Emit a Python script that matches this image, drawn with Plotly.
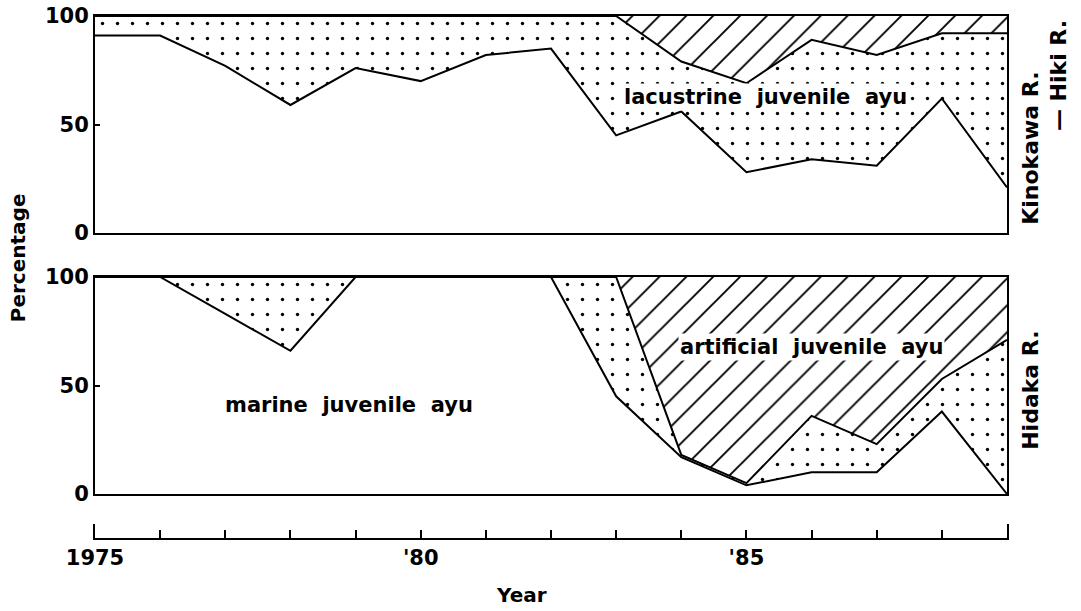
import plotly.graph_objects as go

years = list(range(1975, 1990))

# Kinokawa R. - Hiki R. (percent composition)
kin_marine = [91, 91, 77, 59, 76, 70, 82, 85, 45, 56, 28, 34, 31, 62, 21]
kin_lacustrine = [9, 9, 23, 41, 24, 30, 18, 15, 55, 23, 41, 55, 51, 30, 71]
kin_artificial = [0, 0, 0, 0, 0, 0, 0, 0, 0, 21, 31, 11, 18, 8, 8]

# Hidaka R. (percent composition)
hid_marine = [100, 100, 83, 66, 100, 100, 100, 100, 45, 17, 4, 10, 10, 38, 0]
hid_lacustrine = [0, 0, 17, 34, 0, 0, 0, 0, 55, 1, 1, 26, 13, 15, 71]
hid_artificial = [0, 0, 0, 0, 0, 0, 0, 0, 0, 82, 95, 64, 77, 47, 29]

tick_labels = ["1975", "", "", "", "", "'80", "", "", "", "", "'85", "", "", "", ""]

FONT = "DejaVu Sans"
BLACK = "black"
NB = "\u00a0"

fig = go.Figure()


def add_panel(marine, lac, art, xa, ya):
    lower = marine
    upper = [m + l for m, l in zip(marine, lac)]
    top = [u + a for u, a in zip(upper, art)]
    fig.add_trace(go.Scatter(x=years, y=lower, mode="lines", xaxis=xa, yaxis=ya,
                             line=dict(color=BLACK, width=2), showlegend=False,
                             hoverinfo="skip"))
    fig.add_trace(go.Scatter(x=years, y=upper, mode="lines", xaxis=xa, yaxis=ya,
                             fill="tonexty", fillcolor="white",
                             fillpattern=dict(shape=".", size=15, solidity=0.04,
                                              fgcolor=BLACK, bgcolor="white",
                                              fgopacity=1),
                             line=dict(color=BLACK, width=2), showlegend=False,
                             hoverinfo="skip"))
    fig.add_trace(go.Scatter(x=years, y=top, mode="lines", xaxis=xa, yaxis=ya,
                             fill="tonexty", fillcolor="white",
                             fillpattern=dict(shape="/", size=19, solidity=0.1,
                                              fgcolor=BLACK, bgcolor="white",
                                              fgopacity=1),
                             line=dict(color=BLACK, width=0), showlegend=False,
                             hoverinfo="skip"))


add_panel(kin_marine, kin_lacustrine, kin_artificial, "x", "y")
add_panel(hid_marine, hid_lacustrine, hid_artificial, "x2", "y2")

# year axis (separate strip below the panels)
fig.add_trace(go.Scatter(x=[years[0], years[-1]], y=[None, None], mode="lines",
                         xaxis="x3", yaxis="y3", showlegend=False,
                         hoverinfo="skip"))

tick_font = dict(family=FONT, size=21, color=BLACK, weight="bold")

panel_x = dict(range=[1975, 1989], showline=True, mirror=True, linewidth=2,
               linecolor=BLACK, showticklabels=False, ticks="", showgrid=False,
               zeroline=False, domain=[0, 1], automargin=False)
panel_y = dict(range=[0, 100], tickvals=[0, 50, 100], ticks="inside", ticklen=5,
               tickwidth=2, tickcolor=BLACK, showline=True, mirror=True,
               linewidth=2, linecolor=BLACK, showgrid=False, zeroline=False,
               tickfont=tick_font, automargin=False, ticklabeloverflow="allow")

fig.update_layout(
    width=1081, height=611,
    margin=dict(l=95, r=74, t=16, b=73),
    paper_bgcolor="white", plot_bgcolor="white",
    xaxis=dict(anchor="y", **panel_x),
    yaxis=dict(anchor="x", domain=[0.5843, 1.0], **panel_y),
    xaxis2=dict(anchor="y2", **panel_x),
    yaxis2=dict(anchor="x2", domain=[0.0843, 0.5], **panel_y),
    xaxis3=dict(anchor="y3", range=[1975, 1989], domain=[0, 1], tickvals=years,
                ticktext=tick_labels, ticks="inside", ticklen=8, tickwidth=2,
                tickcolor=BLACK, showline=True, linewidth=2, linecolor=BLACK,
                showgrid=False, zeroline=False, tickfont=tick_font,
                automargin=False, ticklabeloverflow="allow"),
    yaxis3=dict(anchor="x3", domain=[0, 0.027], range=[0, 1], showline=True,
                mirror=True, linewidth=2, linecolor=BLACK, showticklabels=False,
                ticks="", showgrid=False, zeroline=False, automargin=False),
)

ann_font = dict(family=FONT, size=21, color=BLACK, weight="bold")
side_font = dict(family=FONT, size=20, color=BLACK, weight="bold")
river_font = dict(family=FONT, size=22, color=BLACK, weight="bold")
common = dict(showarrow=False, xanchor="center", yanchor="middle")
annotations = [
    dict(text=f"lacustrine{NB}{NB}juvenile{NB}{NB}ayu", x=1985.3, y=62.7,
         xref="x", yref="y", bgcolor="white", font=ann_font, **common),
    dict(text=f"artificial{NB}{NB}juvenile{NB}{NB}ayu", x=1986.0, y=67.7,
         xref="x2", yref="y2", bgcolor="white", font=ann_font, **common),
    dict(text=f"marine{NB}{NB}juvenile{NB}{NB}ayu", x=1978.9, y=41,
         xref="x2", yref="y2", font=ann_font, **common),
    dict(text="Percentage", x=-0.0844, y=0.536, xref="paper", yref="paper",
         textangle=-90, font=side_font, **common),
    dict(text="Year", x=0.468, y=-0.109, xref="paper", yref="paper",
         font=side_font, **common),
    dict(text="Kinokawa R.", x=1.025, y=0.747, xref="paper", yref="paper",
         textangle=-90, font=river_font, **common),
    dict(text="— Hiki R.", x=1.056, y=0.885, xref="paper", yref="paper",
         textangle=-90, font=river_font, **common),
    dict(text="Hidaka R.", x=1.025, y=0.2835, xref="paper", yref="paper",
         textangle=-90, font=river_font, **common),
]
fig.update_layout(annotations=annotations)

fig.write_html("out.html", config={"displayModeBar": False},
               post_script="document.body.style.margin='0px';")
